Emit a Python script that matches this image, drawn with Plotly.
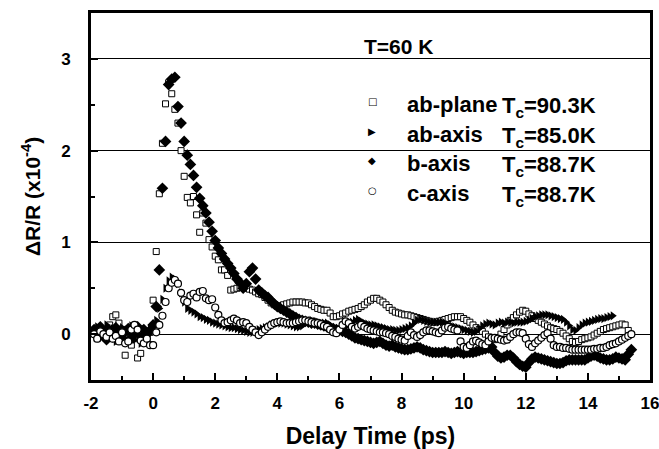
import numpy as np
import plotly.graph_objects as go

# Delay-time sampling grid (ps)
delay_ps = np.round(np.arange(-1.9, 15.41, 0.1), 1)

ab_plane = [
    0.03, -0.05, 0.06, -0.02, 0.05, 0.10, 0.19, 0.21, 0.12, -0.03,
    -0.23, -0.08, -0.12, -0.05, -0.26, -0.21, -0.08, -0.05, 0.02, 0.37,
    0.90, 1.53, 2.08, 2.51, 2.74, 2.62, 2.45, 2.30, 2.00, 1.72,
    1.49, 1.43, 1.50, 1.30, 1.11, 1.32, 1.21, 1.03, 0.95, 0.85,
    0.81, 0.70, 0.70, 0.64, 0.48, 0.49, 0.50, 0.51, 0.51, 0.50,
    0.49, 0.48, 0.46, 0.44, 0.43, 0.40, 0.37, 0.34, 0.32, 0.30,
    0.31, 0.32, 0.33, 0.34, 0.35, 0.35, 0.35, 0.35, 0.34, 0.34,
    0.32, 0.30, 0.28, 0.27, 0.26, 0.26, 0.23, 0.19, 0.19, 0.20,
    0.22, 0.23, 0.25, 0.26, 0.27, 0.28, 0.30, 0.32, 0.35, 0.37,
    0.39, 0.39, 0.37, 0.35, 0.32, 0.29, 0.26, 0.24, 0.23, 0.22,
    0.21, 0.21, 0.20, 0.19, 0.18, 0.17, 0.16, 0.15, 0.14, 0.13,
    0.13, 0.14, 0.15, 0.16, 0.17, 0.18, 0.19, 0.19, 0.19, 0.17,
    0.15, 0.13, 0.10, 0.07, 0.05, 0.03, 0.00, -0.03, -0.05, -0.06,
    -0.04, 0.00, 0.05, 0.10, 0.15, 0.18, 0.21, 0.24, 0.26, 0.25,
    0.22, 0.20, 0.17, 0.15, 0.13, 0.11, 0.09, 0.07, 0.06, 0.05,
    0.03, 0.01, -0.02, -0.05, -0.08, -0.09, -0.08, -0.06, -0.05, -0.04,
    -0.03, -0.01, 0.01, 0.03, 0.05, 0.06, 0.07, 0.08, 0.09, 0.10,
    0.11, 0.10, 0.04, None,
]

ab_axis = [
    0.02, 0.08, -0.04, 0.05, 0.10, -0.03, 0.06, -0.08, 0.03, 0.07,
    -0.05, 0.02, 0.09, -0.06, 0.04, -0.10, 0.05, -0.02, 0.06, 0.05,
    0.15, 0.28, 0.38, 0.50, 0.58, 0.62, 0.60, 0.55, 0.45, 0.35,
    0.28, 0.26, 0.24, 0.22, 0.19, 0.18, 0.16, 0.15, 0.13, 0.12,
    0.11, 0.10, 0.09, 0.08, 0.07, 0.07, 0.06, 0.05, 0.04, 0.03,
    0.02, 0.02, 0.03, 0.05, 0.06, 0.07, 0.08, 0.10, 0.11, 0.12,
    0.12, 0.12, 0.11, 0.10, 0.09, 0.08, 0.08, 0.09, 0.12, 0.14,
    0.15, 0.14, 0.13, 0.12, 0.12, 0.12, 0.10, 0.07, 0.05, 0.05,
    0.07, 0.09, 0.11, 0.13, 0.15, 0.16, 0.14, 0.12, 0.11, 0.10,
    0.10, 0.09, 0.08, 0.07, 0.06, 0.05, 0.05, 0.04, 0.04, 0.05,
    0.06, 0.07, 0.09, 0.12, 0.15, 0.16, 0.15, 0.14, 0.13, 0.13,
    0.13, 0.13, 0.13, 0.12, 0.10, 0.09, 0.08, 0.07, 0.06, 0.05,
    0.04, 0.03, 0.02, 0.03, 0.06, 0.09, 0.11, 0.12, 0.11, 0.10,
    0.12, 0.13, 0.12, 0.13, 0.13, 0.12, 0.13, 0.13, 0.13, 0.14,
    0.15, 0.17, 0.19, 0.20, 0.21, 0.21, 0.21, 0.20, 0.19, 0.18,
    0.17, 0.16, 0.13, 0.09, 0.05, 0.04, 0.07, 0.10, 0.12, 0.13,
    0.14, 0.15, 0.16, 0.17, 0.17, 0.18, 0.19, 0.20, None, None,
    None, None, None, None,
]

b_axis = [
    0.05, -0.02, 0.08, 0.00, -0.06, 0.04, -0.03, 0.07, 0.02, -0.05,
    0.03, 0.06, -0.04, 0.01, 0.08, -0.02, 0.05, 0.00, 0.04, 0.10,
    0.30, 0.70, 1.59, 2.10, 2.72, 2.78, 2.80, 2.48, 2.30, 2.10,
    1.95, 1.85, 1.73, 1.60, 1.48, 1.40, 1.32, 1.22, 1.12, 1.02,
    0.94, 0.88, 0.82, 0.77, 0.72, 0.66, 0.60, 0.56, 0.50, 0.55,
    0.68, 0.72, 0.60, 0.48, 0.45, 0.42, 0.40, 0.36, 0.33, 0.30,
    0.28, 0.26, 0.24, 0.22, 0.20, 0.18, 0.16, 0.15, 0.14, 0.13,
    0.12, 0.12, 0.11, 0.10, 0.09, 0.08, 0.07, 0.06, 0.05, 0.04,
    0.03, 0.02, 0.00, -0.02, -0.04, -0.05, -0.06, -0.07, -0.08, -0.09,
    -0.10, -0.09, -0.08, -0.10, -0.12, -0.13, -0.12, -0.14, -0.15, -0.16,
    -0.17, -0.17, -0.16, -0.15, -0.14, -0.15, -0.17, -0.18, -0.19, -0.20,
    -0.20, -0.20, -0.20, -0.19, -0.20, -0.21, -0.20, -0.19, -0.20, -0.21,
    -0.20, -0.20, -0.20, -0.19, -0.18, -0.17, -0.16, -0.15, -0.14, -0.20,
    -0.24, -0.26, -0.25, -0.23, -0.23, -0.26, -0.30, -0.33, -0.35, -0.36,
    -0.31, -0.27, -0.25, -0.26, -0.27, -0.28, -0.29, -0.30, -0.31, -0.32,
    -0.32, -0.31, -0.29, -0.28, -0.28, -0.28, -0.28, -0.28, -0.28, -0.26,
    -0.24, -0.23, -0.24, -0.26, -0.27, -0.28, -0.28, -0.27, -0.25, -0.26,
    -0.27, -0.28, -0.22, -0.17,
]

c_axis = [
    0.00, -0.05, 0.03, 0.00, -0.03, 0.02, -0.05, -0.02, -0.08, 0.02,
    -0.10, -0.08, 0.05, 0.10, 0.05, -0.07, -0.10, -0.05, -0.12, -0.12,
    0.02, 0.10, 0.20, 0.35, 0.50, 0.56, 0.59, 0.55, 0.45, 0.37,
    0.35, 0.42, 0.44, 0.40, 0.46, 0.47, 0.39, 0.37, 0.38, 0.29,
    0.21, 0.15, 0.12, 0.13, 0.15, 0.17, 0.15, 0.12, 0.13, 0.12,
    0.08, 0.05, 0.02, -0.01, 0.02, 0.05, 0.08, 0.10, 0.12, 0.13,
    0.14, 0.13, 0.12, 0.12, 0.12, 0.13, 0.14, 0.15, 0.15, 0.14,
    0.13, 0.12, 0.12, 0.11, 0.09, 0.08, 0.05, 0.02, 0.01, 0.05,
    0.10, 0.14, 0.12, 0.08, 0.06, 0.08, 0.10, 0.08, 0.06, 0.05,
    0.04, 0.03, 0.02, 0.02, 0.01, 0.00, -0.02, -0.03, -0.05, -0.06,
    -0.07, -0.02, 0.02, -0.01, -0.03, -0.01, 0.02, 0.04, 0.04, 0.03,
    0.02, 0.01, 0.04, 0.07, 0.08, 0.06, 0.05, 0.04, -0.08, -0.14,
    -0.15, -0.12, -0.08, -0.07, -0.09, -0.11, -0.12, -0.08, -0.04, -0.04,
    -0.05, -0.06, -0.07, -0.06, -0.03, 0.00, 0.02, 0.02, 0.01, -0.05,
    -0.11, -0.14, -0.10, -0.07, -0.04, -0.01, 0.01, -0.05, -0.12, -0.14,
    -0.14, -0.15, -0.15, -0.16, -0.17, -0.17, -0.17, -0.17, -0.17, -0.17,
    -0.17, -0.16, -0.16, -0.15, -0.15, -0.14, -0.12, -0.11, -0.10, -0.08,
    -0.06, -0.04, -0.02, 0.00,
]

x_tick_vals = [-2, 0, 2, 4, 6, 8, 10, 12, 14, 16]
x_tick_text = ["-2", "0", "2", "4", "6", "8", "10", "12", "14", "16"]
y_tick_vals = [0, 1, 2, 3]
y_tick_text = ["0", "1", "2", "3"]

legend_names = ["ab-plane", "ab-axis", "b-axis", "c-axis"]
legend_tc = ["90.3K", "85.0K", "88.7K", "88.7K"]
legend_glyphs = ["\u25A1", "\u25B6", "\u25C6", "\u25CB"]

FONT = "Liberation Sans, Arial, sans-serif"

fig = go.Figure()

fig.add_trace(go.Scatter(x=delay_ps, y=ab_plane, mode="markers", name="ab-plane",
                         marker=dict(symbol="square", size=6, color="white",
                                     line=dict(color="black", width=1))))
fig.add_trace(go.Scatter(x=delay_ps, y=ab_axis, mode="markers", name="ab-axis",
                         marker=dict(symbol="triangle-right", size=8, color="black",
                                     line=dict(width=0))))
fig.add_trace(go.Scatter(x=delay_ps, y=b_axis, mode="markers", name="b-axis",
                         marker=dict(symbol="diamond", size=9, color="black",
                                     line=dict(width=0))))
fig.add_trace(go.Scatter(x=delay_ps, y=c_axis, mode="markers", name="c-axis",
                         marker=dict(symbol="circle", size=7, color="white",
                                     line=dict(color="black", width=1.2))))

axis_common = dict(
    showline=True, linecolor="black", linewidth=3, mirror=True,
    ticks="inside", tickcolor="black", tickwidth=2, ticklen=7,
    zeroline=False, automargin=False, ticklabeloverflow="allow",
    tickfont=dict(family=FONT, size=17, color="black", weight="bold"),
)

fig.update_xaxes(
    range=[-2, 16], tickvals=x_tick_vals, ticktext=x_tick_text,
    showgrid=False, ticklabelstandoff=6,
    minor=dict(dtick=1, tick0=-1, ticks="inside", ticklen=4, tickwidth=2,
               tickcolor="black", showgrid=False),
    title=dict(text="Delay Time (ps)", standoff=20,
               font=dict(family=FONT, size=23, color="black", weight="bold")),
    **axis_common,
)
fig.update_yaxes(
    range=[-0.5, 3.5], tickvals=y_tick_vals, ticktext=y_tick_text,
    showgrid=True, gridcolor="black", gridwidth=1, ticklabelstandoff=14,
    minor=dict(dtick=0.5, tick0=-0.5, ticks="inside", ticklen=4, tickwidth=2,
               tickcolor="black", showgrid=False),
    **axis_common,
)

# Plot area spans pixel x 91..650, y 13..380
PX_L, PX_R, PX_T, PX_B = 91, 650, 13, 380

def px_x(px):
    return (px - PX_L) / float(PX_R - PX_L)

def px_y(py):
    return 1 - (py - PX_T) / float(PX_B - PX_T)

annotations = [
    dict(text="<b>\u0394R/R (x10<sup>-4</sup>)</b>", x=px_x(31), y=px_y(197),
         xref="paper", yref="paper", xanchor="center", yanchor="middle",
         textangle=-90, showarrow=False,
         font=dict(family=FONT, size=21, color="black")),
    dict(text="<b>T=60 K</b>", x=px_x(362), y=px_y(46), xref="paper", yref="paper",
         xanchor="left", yanchor="middle", showarrow=False,
         font=dict(family=FONT, size=21, color="black")),
]
row_y = [103, 133, 162, 192]
for name, tc, glyph, ry in zip(legend_names, legend_tc, legend_glyphs, row_y):
    annotations.append(dict(text=glyph, x=px_x(372), y=px_y(ry - 2), xref="paper", yref="paper",
                            xanchor="center", yanchor="middle", showarrow=False,
                            font=dict(family="DejaVu Sans", size=10, color="black")))
    annotations.append(dict(text="<b>" + name + "</b>", x=px_x(405), y=px_y(ry + 1),
                            xref="paper", yref="paper", xanchor="left", yanchor="middle",
                            showarrow=False, font=dict(family=FONT, size=22, color="black")))
    annotations.append(dict(text="<b>T<sub>c</sub>=" + tc + "</b>", x=px_x(598), y=px_y(ry + 4),
                            xref="paper", yref="paper", xanchor="right", yanchor="middle",
                            showarrow=False, font=dict(family=FONT, size=22, color="black")))

fig.update_layout(
    width=659, height=449,
    margin=dict(l=PX_L, r=659 - PX_R, t=PX_T, b=449 - PX_B),
    paper_bgcolor="white", plot_bgcolor="white",
    showlegend=False,
    annotations=annotations,
    font=dict(family=FONT, color="black"),
)

fig.write_html("out.html", config={"displayModeBar": False},
               post_script="document.body.style.margin='0';document.body.style.padding='0';")
